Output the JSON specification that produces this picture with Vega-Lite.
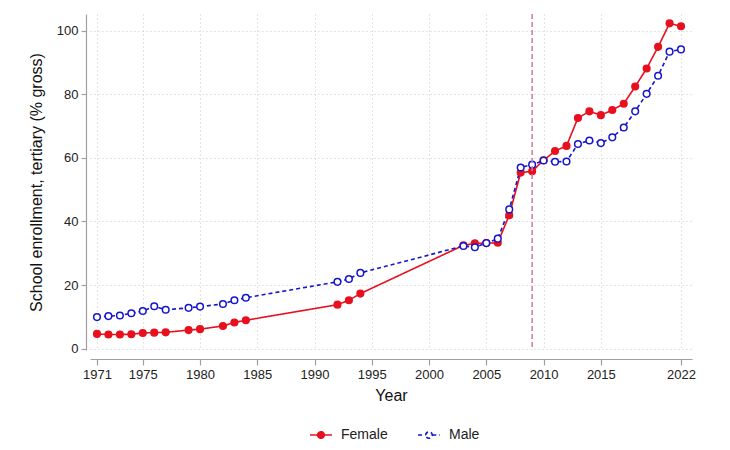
{
  "$schema": "https://vega.github.io/schema/vega-lite/v6.json",
  "autosize": "none",
  "width": 602,
  "height": 336,
  "padding": {"left": 90, "top": 14, "right": 38, "bottom": 100},
  "background": "white",
  "config": {
    "view": {"stroke": null},
    "font": "Liberation Sans",
    "axis": {
      "gridColor": "#c8c8c8",
      "gridDash": [1, 3],
      "gridWidth": 1,
      "domainColor": "#a0a0a0",
      "tickColor": "#a0a0a0",
      "domainWidth": 1.2,
      "tickWidth": 1.2,
      "labelFont": "Liberation Sans",
      "labelFontSize": 13,
      "labelColor": "#222222",
      "titleFont": "Liberation Sans",
      "titleFontSize": 16,
      "titleFontWeight": "normal",
      "titleColor": "#111111"
    }
  },
  "datasets": {
    "enrol": [
      {"year": 1971, "sex": "Female", "value": 4.6},
      {"year": 1972, "sex": "Female", "value": 4.4},
      {"year": 1973, "sex": "Female", "value": 4.4},
      {"year": 1974, "sex": "Female", "value": 4.5},
      {"year": 1975, "sex": "Female", "value": 4.9},
      {"year": 1976, "sex": "Female", "value": 5.0},
      {"year": 1977, "sex": "Female", "value": 5.1},
      {"year": 1979, "sex": "Female", "value": 5.8},
      {"year": 1980, "sex": "Female", "value": 6.1},
      {"year": 1982, "sex": "Female", "value": 7.1},
      {"year": 1983, "sex": "Female", "value": 8.2},
      {"year": 1984, "sex": "Female", "value": 8.9},
      {"year": 1992, "sex": "Female", "value": 13.8},
      {"year": 1993, "sex": "Female", "value": 15.2},
      {"year": 1994, "sex": "Female", "value": 17.3},
      {"year": 2003, "sex": "Female", "value": 32.5},
      {"year": 2004, "sex": "Female", "value": 33.1},
      {"year": 2005, "sex": "Female", "value": 33.2},
      {"year": 2006, "sex": "Female", "value": 33.3},
      {"year": 2007, "sex": "Female", "value": 42.0},
      {"year": 2008, "sex": "Female", "value": 55.4},
      {"year": 2009, "sex": "Female", "value": 55.8},
      {"year": 2010, "sex": "Female", "value": 59.3},
      {"year": 2011, "sex": "Female", "value": 62.2},
      {"year": 2012, "sex": "Female", "value": 63.8},
      {"year": 2013, "sex": "Female", "value": 72.6},
      {"year": 2014, "sex": "Female", "value": 74.7},
      {"year": 2015, "sex": "Female", "value": 73.5},
      {"year": 2016, "sex": "Female", "value": 75.1},
      {"year": 2017, "sex": "Female", "value": 77.1},
      {"year": 2018, "sex": "Female", "value": 82.5},
      {"year": 2019, "sex": "Female", "value": 88.2},
      {"year": 2020, "sex": "Female", "value": 95.0},
      {"year": 2021, "sex": "Female", "value": 102.4},
      {"year": 2022, "sex": "Female", "value": 101.5},
      {"year": 1971, "sex": "Male", "value": 9.9},
      {"year": 1972, "sex": "Male", "value": 10.2},
      {"year": 1973, "sex": "Male", "value": 10.4},
      {"year": 1974, "sex": "Male", "value": 11.1},
      {"year": 1975, "sex": "Male", "value": 11.8},
      {"year": 1976, "sex": "Male", "value": 13.3},
      {"year": 1977, "sex": "Male", "value": 12.2},
      {"year": 1979, "sex": "Male", "value": 12.8},
      {"year": 1980, "sex": "Male", "value": 13.2},
      {"year": 1982, "sex": "Male", "value": 14.0},
      {"year": 1983, "sex": "Male", "value": 15.2},
      {"year": 1984, "sex": "Male", "value": 16.0},
      {"year": 1992, "sex": "Male", "value": 21.0},
      {"year": 1993, "sex": "Male", "value": 21.9},
      {"year": 1994, "sex": "Male", "value": 23.8},
      {"year": 2003, "sex": "Male", "value": 32.3},
      {"year": 2004, "sex": "Male", "value": 31.9},
      {"year": 2005, "sex": "Male", "value": 33.2},
      {"year": 2006, "sex": "Male", "value": 34.6},
      {"year": 2007, "sex": "Male", "value": 43.8},
      {"year": 2008, "sex": "Male", "value": 57.0},
      {"year": 2009, "sex": "Male", "value": 57.9},
      {"year": 2010, "sex": "Male", "value": 59.2},
      {"year": 2011, "sex": "Male", "value": 58.8},
      {"year": 2012, "sex": "Male", "value": 58.9},
      {"year": 2013, "sex": "Male", "value": 64.4},
      {"year": 2014, "sex": "Male", "value": 65.5},
      {"year": 2015, "sex": "Male", "value": 64.7},
      {"year": 2016, "sex": "Male", "value": 66.5},
      {"year": 2017, "sex": "Male", "value": 69.6},
      {"year": 2018, "sex": "Male", "value": 74.7},
      {"year": 2019, "sex": "Male", "value": 80.2},
      {"year": 2020, "sex": "Male", "value": 85.9},
      {"year": 2021, "sex": "Male", "value": 93.5},
      {"year": 2022, "sex": "Male", "value": 94.2}
    ],
    "marker": [{"year": 2009}]
  },
  "layer": [
    {
      "data": {"name": "enrol"},
      "mark": {"type": "line", "strokeWidth": 1.6, "clip": false},
      "encoding": {
        "x": {
          "field": "year",
          "type": "quantitative",
          "scale": {"domain": [1970.39, 2022.96], "nice": false, "zero": false},
          "axis": {
            "title": "Year",
            "values": [1971, 1975, 1980, 1985, 1990, 1995, 2000, 2005, 2010, 2015, 2022],
            "format": "d",
            "offset": 9,
            "tickSize": 6,
            "labelPadding": 3,
            "titlePadding": 6,
            "labelFlush": false
          }
        },
        "y": {
          "field": "value",
          "type": "quantitative",
          "scale": {"domain": [-0.47, 105.35], "nice": false, "zero": false},
          "axis": {
            "title": "School enrollment, tertiary (% gross)",
            "values": [0, 20, 40, 60, 80, 100],
            "offset": 4,
            "tickSize": 5,
            "labelPadding": 3,
            "titlePadding": 12
          }
        },
        "stroke": {
          "field": "sex",
          "type": "nominal",
          "scale": {"domain": ["Female", "Male"], "range": ["#e8101e", "#1515cc"]},
          "legend": {
            "title": null,
            "orient": "none",
            "direction": "horizontal",
            "legendX": 219,
            "legendY": 409,
            "symbolType": "M-1,0H-0.3M0.3,0H1M-0.3,0A0.3,0.3 0 1,1 0.3,0A0.3,0.3 0 1,1 -0.3,0",
            "symbolSize": 480,
            "symbolStrokeWidth": 1.6,
            "labelFontSize": 14,
            "labelColor": "#222222",
            "labelOffset": 8,
            "columnPadding": 26
          }
        },
        "strokeDash": {
          "field": "sex",
          "type": "nominal",
          "scale": {"domain": ["Female", "Male"], "range": [[1, 0], [4, 3]]},
          "legend": null
        }
      }
    },
    {
      "data": {"name": "enrol"},
      "mark": {"type": "point", "shape": "circle", "size": 44, "strokeWidth": 1.5, "opacity": 1, "clip": false},
      "encoding": {
        "x": {"field": "year", "type": "quantitative"},
        "y": {"field": "value", "type": "quantitative"},
        "stroke": {"field": "sex", "type": "nominal"},
        "fill": {
          "field": "sex",
          "type": "nominal",
          "scale": {"domain": ["Female", "Male"], "range": ["#e8101e", "#ffffff"]},
          "legend": null
        }
      }
    },
    {
      "data": {"name": "marker"},
      "mark": {"type": "rule", "color": "#d07a9a", "strokeWidth": 1.5, "strokeDash": [5, 3]},
      "encoding": {"x": {"field": "year", "type": "quantitative"}}
    }
  ]
}
